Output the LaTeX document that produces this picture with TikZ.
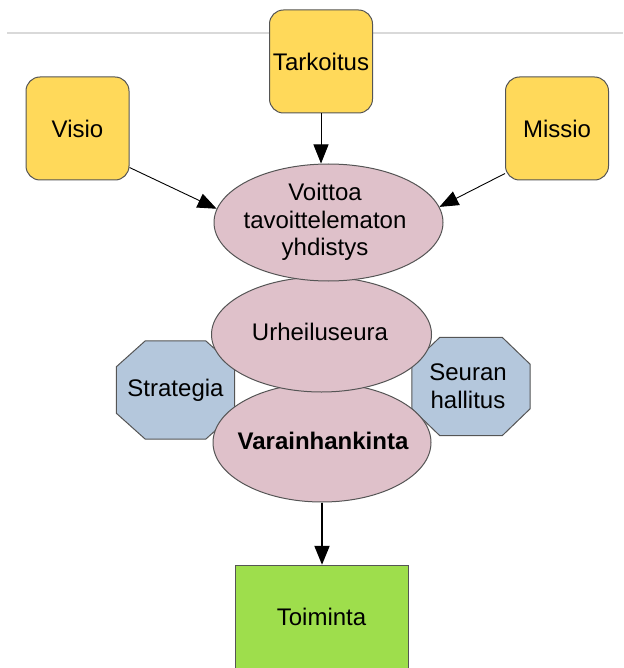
\documentclass[tikz,border=0pt]{standalone}
\usepackage{fontspec}
\setmainfont{Liberation Sans}
\usetikzlibrary{arrows.meta,shapes.geometric}
\definecolor{ylw}{HTML}{FFD95A}
\definecolor{pnk}{HTML}{DFC1CA}
\definecolor{blu}{HTML}{B4C7DC}
\definecolor{grn}{HTML}{9EDE4C}
\definecolor{edg}{HTML}{555555}
\definecolor{rule}{HTML}{D9D9D9}
\tikzset{
  ybox/.style={draw=edg, line width=1pt, fill=ylw, rounded corners=14pt, minimum width=103pt, minimum height=103pt, inner sep=0pt},
  ell/.style={ellipse, draw=edg, line width=1pt, fill=pnk, inner sep=0pt},
  octbox/.style={minimum width=118pt, minimum height=98pt, inner sep=0pt},
  octline/.style={draw=edg, line width=1pt, fill=blu},
  txt/.style={font=\fontsize{24}{27.5}\selectfont, align=center, inner sep=0pt},
  arr/.style={line width=0.9pt, -{Triangle[length=19pt,width=15pt]}},
  bigarr/.style={line width=2pt, -{Triangle[length=19pt,width=15pt]}}
}
\begin{document}
\begin{tikzpicture}[x=1pt,y=-1pt]
\useasboundingbox (0,0) rectangle (623,668);
% top rule
\draw[rule, line width=1.5pt] (7,33) -- (623,33);
% yellow boxes
\node[ybox] (tark) at (321,61.5) {};
\node[txt] (tarkT) at (tark) {Tarkoitus};
\node[ybox] (visio) at (77.5,128.5) {};
\node[txt] (visioT) at (visio) {Visio};
\node[ybox] (missio) at (557,128.5) {};
\node[txt] (missioT) at (missio) {Missio};
% octagons
\node[octbox] (strat) at (175.5,390) {};
\draw[octline] ([xshift=29pt]strat.north west) -- ([xshift=-29pt]strat.north east) -- ([yshift=-26pt]strat.north east) -- ([yshift=26pt]strat.south east) -- ([xshift=-29pt]strat.south east) -- ([xshift=29pt]strat.south west) -- ([yshift=26pt]strat.south west) -- ([yshift=-26pt]strat.north west) -- cycle;
\node[octbox] (seur) at (471,386.5) {};
\draw[octline] ([xshift=28pt]seur.north west) -- ([xshift=-28pt]seur.north east) -- ([yshift=-27pt]seur.north east) -- ([yshift=27pt]seur.south east) -- ([xshift=-28pt]seur.south east) -- ([xshift=28pt]seur.south west) -- ([yshift=27pt]seur.south west) -- ([yshift=-27pt]seur.north west) -- cycle;
\node[txt] (stratT) at (175.5,390) {Strategia};
\node[txt] (seurT) at (468,386) {Seuran\\hallitus};
% ellipses
\node[ell, minimum width=218pt, minimum height=119pt] (vara) at (322,442.5) {};
\node[ell, minimum width=220pt, minimum height=115pt] (urhe) at (321.5,334.5) {};
\node[ell, minimum width=229pt, minimum height=117pt] (voit) at (328.5,222.5) {};
\node[txt] (voitT) at (325,222) {Voittoa\\tavoittelematon\\yhdistys};
\node[txt] (urheT) at (320,332) {Urheiluseura};
\node[txt, font=\fontsize{24}{27.5}\selectfont\bfseries] (varaT) at (323,441) {Varainhankinta};
% green box
\draw[draw=edg, line width=1pt, fill=grn] (235,565) rectangle (408,672);
\node[minimum width=173pt, minimum height=104pt, inner sep=0pt] (toim) at (321.5,617) {};
\node[txt] (toimT) at (toim) {Toiminta};
% arrows
\draw[arr] (tark.south) -- (tark.south |- voit.north);
\draw[arr] ([yshift=13pt]visio.south east) -- (voit.173);
\draw[arr] ([yshift=7pt]missio.south west) -- (voit.8);
\draw[bigarr] (vara.south) -- (vara.south |- toim.north);
\end{tikzpicture}
\end{document}
